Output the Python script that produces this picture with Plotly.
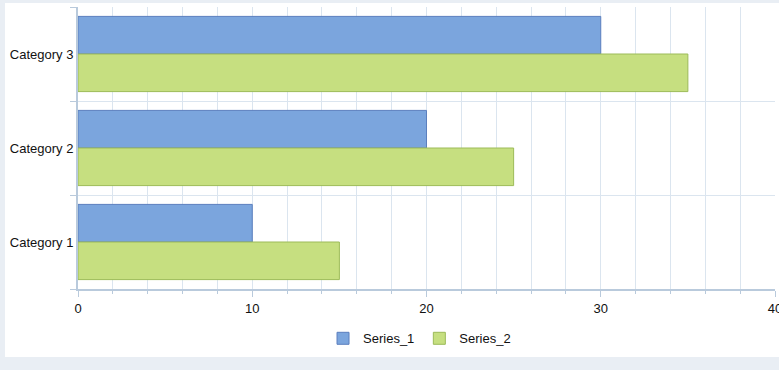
import plotly.graph_objects as go

categories = ["Category 1", "Category 2", "Category 3"]
series_1 = [10, 20, 30]
series_2 = [15, 25, 35]

W, H = 779, 370
ml, mr, mt, mb = 78, 4, 7, 81
pw, ph = W - ml - mr, H - mt - mb

fig = go.Figure()
fig.add_trace(go.Bar(
    name="Series_1", y=categories, x=series_1, orientation="h",
    offset=0.0, width=0.4,
    marker=dict(color="#7ba5dd", line=dict(color="#5b7fbe", width=1)),
))
fig.add_trace(go.Bar(
    name="Series_2", y=categories, x=series_2, orientation="h",
    offset=-0.4, width=0.4,
    marker=dict(color="#c6df80", line=dict(color="#9cbb58", width=1)),
))

# white panel frame
fig.add_shape(type="rect", xref="paper", yref="paper",
              x0=(5 - ml) / pw, x1=(W + 5 - ml) / pw,
              y0=(H - mb - 357) / ph, y1=(H - mb - 3) / ph,
              fillcolor="white", line=dict(width=0), layer="below")

grid = "#dbe5ef"
axis = "#b9cadc"
fig.update_layout(
    width=W, height=H,
    margin=dict(l=ml, r=mr, t=mt, b=mb, autoexpand=False),
    paper_bgcolor="#e9eef4", plot_bgcolor="rgba(0,0,0,0)",
    barmode="overlay",
    font=dict(family="Liberation Sans, Arial, sans-serif", size=13, color="#111111"),
    showlegend=True,
    legend=dict(orientation="h", x=0.49, xanchor="center", y=-0.175, yanchor="middle",
                font=dict(size=13), itemwidth=30, bgcolor="rgba(0,0,0,0)"),
    xaxis=dict(range=[0, 40], dtick=10, tick0=0, showgrid=True, gridcolor=grid,
               showline=True, linecolor=axis, linewidth=2, ticks="outside",
               ticklen=6, tickcolor=axis, zeroline=False, automargin=False,
               ticklabeloverflow="allow",
               minor=dict(dtick=2, showgrid=True, gridcolor=grid, ticks="outside",
                          ticklen=3, tickcolor=axis)),
    yaxis=dict(type="category", range=[-0.5, 2.5], tickson="boundaries",
               showgrid=True, gridcolor=grid, showline=True, linecolor=axis,
               linewidth=2, ticks="outside", ticklen=6, tickcolor=axis,
               automargin=False),
)

fig.write_html("out.html", config={"displayModeBar": False},
               post_script="document.body.style.margin='0px';")
